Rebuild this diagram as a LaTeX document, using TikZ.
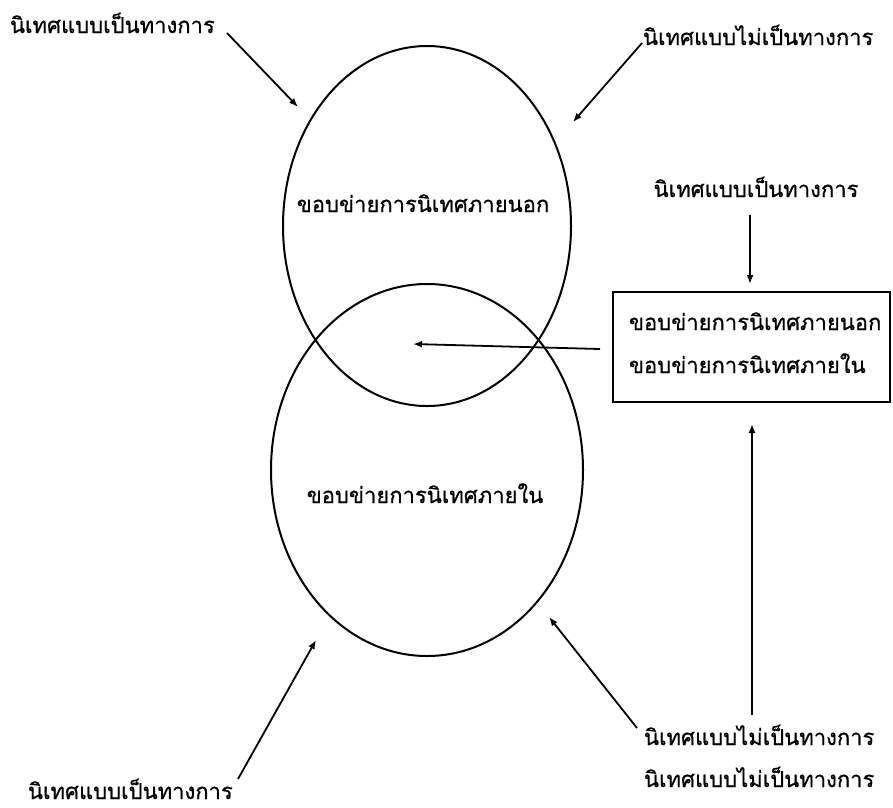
\documentclass[tikz,border=0pt]{standalone}
\usepackage{fontspec}
\newfontfamily\thaifont[Script=Thai,FakeBold=0.7]{Loma}
\usetikzlibrary{arrows.meta,shapes.geometric}
\begin{document}
\begin{tikzpicture}[x=1pt,y=-1pt,
  font=\thaifont\fontsize{22}{26}\selectfont,
  every node/.style={inner sep=0pt, outer sep=0pt},
  oval/.style={draw, ellipse, line width=2pt},
  arr/.style={-{Latex[length=9pt,width=7pt]}, line width=1.8pt},
  boxed/.style={draw, line width=1.8pt}]
\useasboundingbox (0,0) rectangle (893,807);
% ellipses
\node[oval, minimum width=288pt, minimum height=360pt] (outer) at (427,226) {};
\node[oval, minimum width=312pt, minimum height=372pt] (inner) at (427,470) {};
\node[anchor=base] (outertxt) at (423,212) {ขอบข่ายการนิเทศภายนอก};
\node[anchor=base] (innertxt) at (425,503) {ขอบข่ายการนิเทศภายใน};
% box
\node[boxed, minimum width=277pt, minimum height=110pt, anchor=north west] (box) at (613,292) {};
\node[anchor=base west] (boxa) at (629,330) {ขอบข่ายการนิเทศภายนอก};
\node[anchor=base west] (boxb) at (629,373) {ขอบข่ายการนิเทศภายใน};
% labels
\node[anchor=base west] (tl) at (10,33) {นิเทศแบบเป็นทางการ};
\node[anchor=base west] (tr) at (643,45) {นิเทศแบบไม่เป็นทางการ};
\node[anchor=base] (rt) at (756,197) {นิเทศแบบเป็นทางการ};
\node[anchor=base west] (bl) at (28,799) {นิเทศแบบเป็นทางการ};
\node[anchor=base west] (br1) at (644,745) {นิเทศแบบไม่เป็นทางการ};
\node[anchor=base west] (br2) at (644,787) {นิเทศแบบไม่เป็นทางการ};
% arrow end points
\coordinate (tlS) at (227,33);  \coordinate (tlE) at (298,107);
\coordinate (trS) at (642,43);  \coordinate (trE) at (573,122);
\coordinate (rtS) at (750,215); \coordinate (rtE) at (750,284);
\coordinate (boxS) at (600,349); \coordinate (midE) at (413,344);
\coordinate (upS) at (752,715); \coordinate (upE) at (752,424);
\coordinate (blS) at (238,779); \coordinate (blE) at (316,640);
\coordinate (brS) at (637,728); \coordinate (brE) at (549,617);
\draw[arr] (tlS) -- (tlE);
\draw[arr] (trS) -- (trE);
\draw[arr] (rtS) -- (rtE);
\draw[arr] (boxS) -- (midE);
\draw[arr] (upS) -- (upE);
\draw[arr] (blS) -- (blE);
\draw[arr] (brS) -- (brE);
\end{tikzpicture}
\end{document}
